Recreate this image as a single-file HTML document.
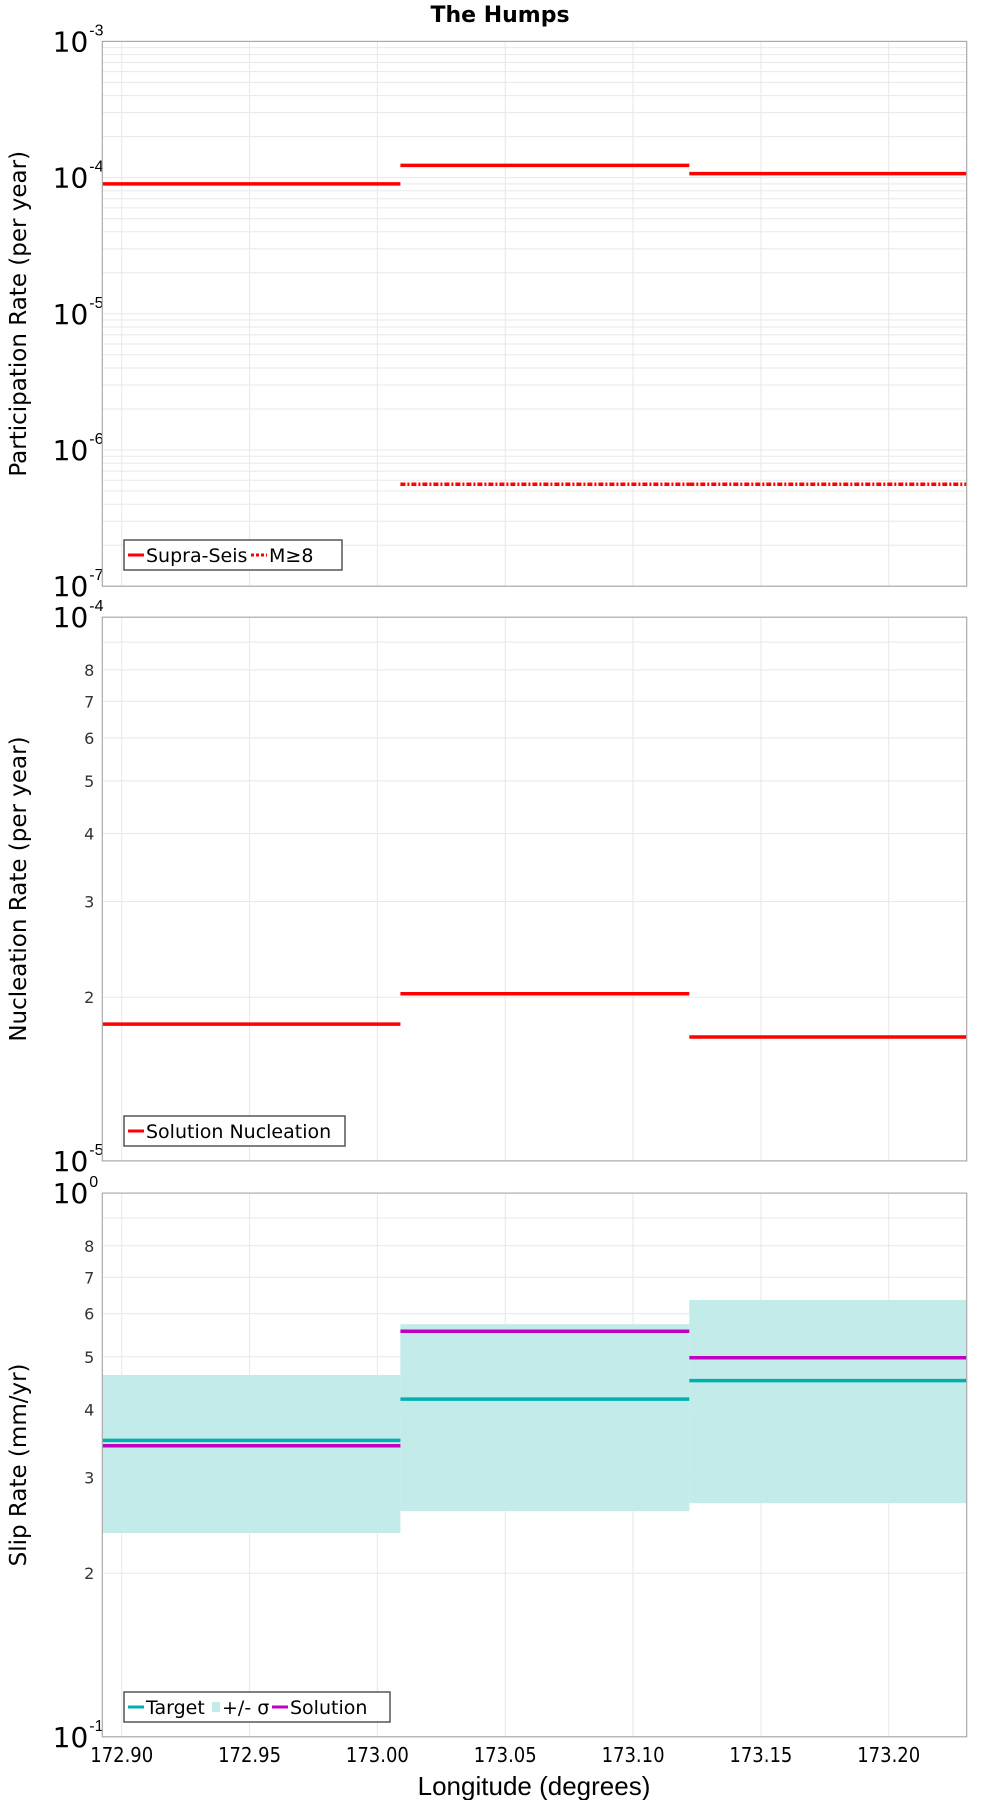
<!DOCTYPE html>
<html><head><meta charset="utf-8">
<style>
html,body{margin:0;padding:0;background:#fff;}
svg{display:block;font-family:"Liberation Sans","DejaVu Sans",sans-serif;}
</style></head>
<body>
<svg id="chart" width="1000" height="1800" viewBox="0 0 1000 1800" xmlns="http://www.w3.org/2000/svg">
<text x="500" y="22" text-anchor="middle" font-size="22" font-weight="bold" font-family="DejaVu Sans, sans-serif">The Humps</text>
</svg>
<script>
// ---- data ----
const xTicks = [172.90, 172.95, 173.00, 173.05, 173.10, 173.15, 173.20];
const segStarts = [172.8924, 173.009, 173.122];
const segEnds = [173.009, 173.122, 173.2305];
const supraSeis = [9.0e-5, 1.23e-4, 1.07e-4];
const m8Rate = [null, 5.6e-7, 5.6e-7];
const nucleation = [1.785e-5, 2.03e-5, 1.69e-5];
const slipTarget = [0.351, 0.418, 0.452];
const slipSolution = [0.343, 0.557, 0.498];
const sigmaLow = [0.237, 0.260, 0.269];
const sigmaHigh = [0.463, 0.574, 0.636];

const NS = 'http://www.w3.org/2000/svg';
const svg = document.getElementById('chart');
const L = 102.3, R = 966.7, X0 = 172.8924, X1 = 173.2305;
function sx(v){ return L + (v - X0) / (X1 - X0) * (R - L); }
function mk(tag, attrs, parent){
  const e = document.createElementNS(NS, tag);
  for (const k in attrs) e.setAttribute(k, attrs[k]);
  (parent || svg).appendChild(e);
  return e;
}
function makeY(top, bot, dmin, dmax){
  return v => bot - (Math.log10(v) - dmin) / (dmax - dmin) * (bot - top);
}

function panel(name, top, bot, dmin, dmax, mantissaLabels, ytitle){
  const g = mk('g', {});
  
  
  const sy = makeY(top, bot, dmin, dmax);
  for (let d = dmin; d < dmax; d++){
    for (let m = 1; m <= 9; m++){
      const y = sy(m * Math.pow(10, d));
      const ln = mk('line', {x1:L, x2:R, y1:y, y2:y, stroke:'#e8e8e8', 'stroke-width':1}, g);
      
      
      if (mantissaLabels && m >= 2 && m <= 8){
        const t = mk('text', {x:L-8, y:y+6, 'text-anchor':'end', 'font-size':16, fill:'#333', 'font-family':'DejaVu Sans, sans-serif'}, g);
        
        
        t.textContent = String(m);
      }
    }
  }
  xTicks.forEach(v => {
    const ln = mk('line', {x1:sx(v), x2:sx(v), y1:top, y2:bot, stroke:'#e8e8e8', 'stroke-width':1}, g);
    
    
  });
  for (let d = dmin; d <= dmax; d++){
    const y = sy(Math.pow(10, d));
    const t = mk('text', {x:L-14, y:y+10, 'text-anchor':'end', 'font-size':28, fill:'#000', 'font-family':'DejaVu Sans, sans-serif'}, g);
    
    
    t.textContent = '10';
    const s = mk('text', {x:L-13, y:y-6, 'text-anchor':'start', 'font-size':16, fill:'#000'}, g);
    
    
    s.textContent = String(d);
  }
  const yt = mk('text', {x:0, y:0, 'text-anchor':'middle', 'font-size':23, fill:'#000', 'font-family':'DejaVu Sans, sans-serif', transform:`translate(26,${(top+bot)/2}) rotate(-90)`}, g);
  
  
  yt.textContent = ytitle;
  return {g, sy};
}
function frame(g, top, bot){
  const r = mk('rect', {x:L, y:top, width:R-L, height:bot-top, fill:'none', stroke:'#aaa', 'stroke-width':1.2}, g);
  
  
}
function steps(g, arr, sy, color, name, dash){
  arr.forEach((v, i) => {
    if (v == null) return;
    const a = {x1:sx(segStarts[i]), x2:sx(segEnds[i]), y1:sy(v), y2:sy(v), stroke:color, 'stroke-width':3.5};
    if (dash) a['stroke-dasharray'] = dash;
    const ln = mk('line', a, g);
    
    
  });
}
function legend(g, x, y, w, items){
  const r = mk('rect', {x:x, y:y, width:w, height:30, fill:'#fff', stroke:'#555', 'stroke-width':1.5}, g);
  
  
  let cx = x + 4;
  items.forEach(it => {
    if (it.type === 'rect'){
      const s = mk('rect', {x:cx, y:y+10, width:8, height:10, fill:it.color}, g);
      
      
      cx += 10;
    } else {
      const a = {x1:cx, x2:cx+16, y1:y+15, y2:y+15, stroke:it.color, 'stroke-width':3};
      if (it.dash) a['stroke-dasharray'] = it.dash;
      const s = mk('line', a, g);
      
      
      cx += 18;
    }
    const t = mk('text', {x:cx, y:y+22, 'font-size':19, fill:'#000', 'font-family':'DejaVu Sans, sans-serif'}, g);
    
    
    t.textContent = it.label;
    cx += it.w;
  });
}

const p1 = panel('participation-panel', 41.4, 586.2, -7, -3, false, 'Participation Rate (per year)');
steps(p1.g, supraSeis, p1.sy, '#ff0000', 'supra-seis-line');
steps(p1.g, m8Rate, p1.sy, '#ff0000', 'm8-line', '5,2,2,2');
frame(p1.g, 41.4, 586.2);
legend(p1.g, 124, 540, 218, [{color:'#f00', label:'Supra-Seis', w:105},{color:'#f00', dash:'3,2', label:'M≥8', w:50}]);

const p2 = panel('nucleation-panel', 617.2, 1160.9, -5, -4, true, 'Nucleation Rate (per year)');
steps(p2.g, nucleation, p2.sy, '#ff0000', 'nucleation-line');
frame(p2.g, 617.2, 1160.9);
legend(p2.g, 124, 1116, 221, [{color:'#f00', label:'Solution Nucleation', w:200}]);

const p3 = panel('slip-rate-panel', 1193.1, 1736.8, -1, 0, true, 'Slip Rate (mm/yr)');
sigmaLow.forEach((lo, i) => {
  const y1 = p3.sy(sigmaHigh[i]), y2 = p3.sy(lo);
  const r = mk('rect', {x:sx(segStarts[i]), y:y1, width:sx(segEnds[i])-sx(segStarts[i]), height:y2-y1, fill:'#c2ebea'}, p3.g);
  
  
});
steps(p3.g, slipTarget, p3.sy, '#00b0b0', 'target-line');
steps(p3.g, slipSolution, p3.sy, '#c000c0', 'solution-line');
frame(p3.g, 1193.1, 1736.8);
legend(p3.g, 124, 1692, 266, [{color:'#00b0b0', label:'Target', w:66},{type:'rect', color:'#c2ebea', label:'+/- σ', w:50},{color:'#c000c0', label:'Solution', w:90}]);

xTicks.forEach(v => {
  const t = mk('text', {x:sx(v), y:1762, 'text-anchor':'middle', 'font-size':20, fill:'#000', 'font-family':'DejaVu Sans Condensed, DejaVu Sans, sans-serif'});
  
  
  t.textContent = v.toFixed(2);
});
const xt = mk('text', {x:534, y:1795, 'text-anchor':'middle', 'font-size':26, fill:'#000'});


xt.textContent = 'Longitude (degrees)';
</script>
</body></html>
